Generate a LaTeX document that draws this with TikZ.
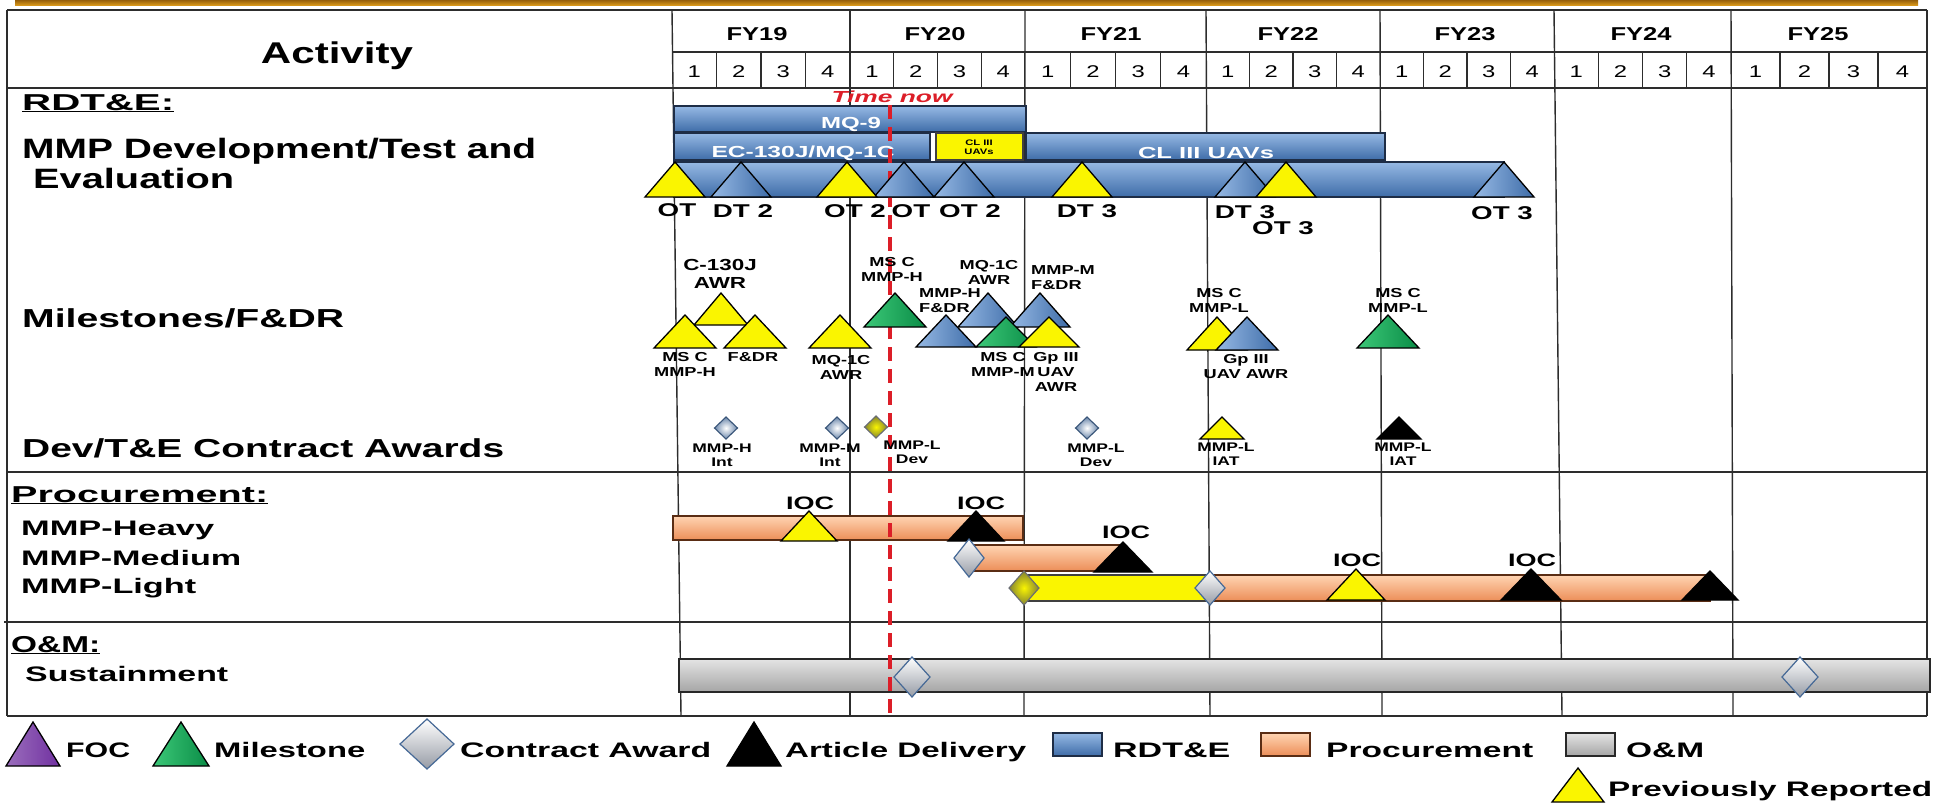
\documentclass[tikz,border=0pt]{standalone}
\usepackage{fontspec}
\usepackage{graphicx}
\setmainfont{Liberation Sans}
\newfontfamily\wa[FakeStretch=1.4]{Liberation Sans}
\newfontfamily\wb[FakeStretch=1.5]{Liberation Sans}
\newcommand\fw[2]{\resizebox{#1pt}{\height}{#2}}
\newcommand\tri[5]{\draw[#1] (#2,#3) -- ++({#5},{#4-#3}) -- ++({-2*#5},0) -- cycle;}
\newcommand\dia[5]{\draw[#1] (#2,#3) +(0,{-#5}) -- +(#4,0) -- +(0,#5) -- +({-#4},0) -- cycle;}
\definecolor{btop}{RGB}{150,185,228}
\definecolor{bbot}{RGB}{62,108,168}
\definecolor{bborder}{RGB}{30,45,70}
\definecolor{otop}{RGB}{255,212,178}
\definecolor{obot}{RGB}{236,142,88}
\definecolor{oborder}{RGB}{90,45,20}
\definecolor{gtop}{RGB}{228,228,228}
\definecolor{gbot}{RGB}{165,165,165}
\definecolor{gborder}{RGB}{40,40,40}
\definecolor{yel}{RGB}{250,245,0}
\definecolor{gtopc}{RGB}{60,200,120}
\definecolor{tgreen}{RGB}{10,140,70}
\definecolor{tpurple}{RGB}{112,48,160}
\definecolor{tred}{RGB}{220,30,40}
\definecolor{gline}{RGB}{45,45,45}
\definecolor{goldc}{RGB}{215,150,25}
\definecolor{goldd}{RGB}{150,95,10}
\definecolor{dblue}{RGB}{70,105,150}
\definecolor{sgray}{RGB}{150,155,165}
\definecolor{olive}{RGB}{130,130,50}
\begin{document}
\begin{tikzpicture}[x=1pt,y=-1pt,
  grid/.style={draw=gline,line width=1.4pt},
  bluebar/.style={draw=bborder,line width=1.3pt,top color=btop,bottom color=bbot},
  orbar/.style={draw=oborder,line width=1.3pt,top color=otop,bottom color=obot},
  graybar/.style={draw=gborder,line width=1.6pt,top color=gtop,bottom color=gbot},
  yelbar/.style={draw=black!75,line width=1.3pt,fill=yel},
  tri/.style={line width=1.3pt,line join=miter,draw=black},
  ytri/.style={tri,fill=yel},
  btri/.style={tri,left color=btop,right color=bbot},
  gtri/.style={tri,left color=gtopc,right color=tgreen},
  ktri/.style={tri,fill=black},
  ptri/.style={tri,left color=tpurple!70!white,right color=tpurple},
  sdia/.style={draw=dblue,line width=1.2pt,top color=white,bottom color=sgray},
  bdia/.style={draw=dblue!80!black,line width=1.1pt,inner color=white,outer color=dblue!80},
  ydia/.style={draw=sgray!70!black,line width=1.1pt,inner color=yel,outer color=olive},
  lc/.style={inner sep=0pt,anchor=base west},
  lab/.style={inner sep=0pt,align=center,font=\wa\bfseries\fontsize{13}{15}\selectfont},
  labs/.style={inner sep=0pt,align=center,font=\wa\bfseries\fontsize{12.5}{14}\selectfont},
  tl/.style={inner sep=0pt,font=\wb\bfseries\fontsize{18.5}{20}\selectfont},
  barlab/.style={inner sep=0pt,text=white,font=\bfseries\fontsize{16}{16}\selectfont},
  leg/.style={inner sep=0pt,anchor=base west,font=\bfseries\fontsize{21}{21}\selectfont},
  fyl/.style={inner sep=0pt,anchor=base,font=\bfseries\fontsize{18.6}{19}\selectfont},
  ql/.style={inner sep=0pt,anchor=base,font=\wa\fontsize{17}{17}\selectfont}]
\useasboundingbox (0,0) rectangle (1939,804);
\fill[white] (0,0) rectangle (1939,804);
\fill[top color=goldd,bottom color=goldc] (15,0) rectangle (1918,5);

% ---------- table lines
\draw[grid] (7,10) -- (1927,10);
\draw[grid] (672,52) -- (1927,52);
\draw[grid] (7,88) -- (1927,88);
\draw[grid] (7,472) -- (1927,472);
\draw[grid] (4,622) -- (1927,622);
\draw[grid] (7,716) -- (1927,716);
\draw[grid] (7,10) -- (7,716);
\foreach \t/\u in {672/681,850/850,1025/1024,1206/1210,1380/1382,1554/1562,1731/1733,1927/1927}
  \draw[grid] (\t,10) -- (\u,716);

% ---------- header
\node[inner sep=0pt,anchor=base,font=\bfseries\fontsize{30}{30}\selectfont] (act) at (337,63) {\fw{152}{Activity}};
\foreach \a/\b/\fy/\c in {672/850/FY19/757,850/1025/FY20/935,1025/1206/FY21/1111,1206/1380/FY22/1288,1380/1554/FY23/1465,1554/1731/FY24/1641,1731/1927/FY25/1818}{
  \node[fyl] (\fy) at (\c,40) {\fw{61}{\fy}};
  \foreach \q in {1,2,3}{\draw[grid] ({\a+(\b-\a)*\q/4},52) -- ({\a+(\b-\a)*\q/4},88);}
  \foreach \q in {1,2,3,4}{\node[ql] (\fy q\q) at ({\a+(\b-\a)*(2*\q-1)/8},77) {\q};}
}

% ---------- left column
\node[lc,font=\bfseries\fontsize{23}{23}\selectfont] (rdte) at (22,110) {\fw{152}{\underline{RDT\&E:}}};
\node[lc,font=\bfseries\fontsize{28}{28}\selectfont] (mmpdev) at (22,158) {\fw{514}{MMP Development/Test and}};
\node[lc,font=\bfseries\fontsize{28}{28}\selectfont] (evalu) at (33,188) {\fw{201}{Evaluation}};
\node[lc,font=\bfseries\fontsize{26}{26}\selectfont] (miles) at (22,327) {\fw{322}{Milestones/F\&DR}};
\node[lc,font=\bfseries\fontsize{26}{26}\selectfont] (devte) at (22,457) {\fw{482}{Dev/T\&E Contract Awards}};
\node[lc,font=\bfseries\fontsize{23}{23}\selectfont] (procu) at (11,502) {\fw{257}{\underline{Procurement:}}};
\node[lc,font=\bfseries\fontsize{21}{21}\selectfont] (heavy) at (21,535) {\fw{193}{MMP-Heavy}};
\node[lc,font=\bfseries\fontsize{21}{21}\selectfont] (medium) at (21,565) {\fw{220}{MMP-Medium}};
\node[lc,font=\bfseries\fontsize{21}{21}\selectfont] (light) at (21,593) {\fw{175}{MMP-Light}};
\node[lc,font=\bfseries\fontsize{23}{23}\selectfont] (om) at (11,652) {\fw{89}{\underline{O\&M:}}};
\node[lc,font=\bfseries\fontsize{21}{21}\selectfont] (sust) at (25,681) {\fw{203}{Sustainment}};

% ---------- RDT&E bars
\draw[bluebar] (674,106) rectangle (1026,132);
\draw[bluebar] (674,133) rectangle (930,160);
\draw[yelbar] (936,133) rectangle (1023,160);
\draw[bluebar] (1026,133) rectangle (1385,160);
\draw[bluebar] (674,162) rectangle (1504,197);
\node[barlab] (mq9) at (851,124) {\fw{60}{MQ-9}};
\node[barlab] (ec130) at (803,153) {\fw{183}{EC-130J/MQ-1C}};
\node[barlab] (cl3) at (1206,153) {\fw{136}{CL III UAVs}};
\node[inner sep=0pt,align=center,font=\wa\bfseries\fontsize{8}{9.5}\selectfont] (cl3s) at (979,147) {CL III\\UAVs};

% ---------- procurement / O&M bars
\draw[orbar] (673,516) rectangle (1023,540);
\draw[orbar] (969,545) rectangle (1120,571);
\draw[orbar] (1210,575) rectangle (1710,601);
\draw[yelbar] (1024,575) rectangle (1210,601);
\draw[graybar] (679,659) rectangle (1930,692);

% ---------- time now
\node[inner sep=0pt,anchor=base,text=tred,font=\bfseries\itshape\fontsize{16}{16}\selectfont] (tnow) at (892,102) {\fw{121}{Time now}};
\coordinate (tnowend) at (890,716);
\draw[tred,line width=3.5pt,dash pattern=on 14pt off 8pt] (890,105) -- (tnowend);

% ---------- row 3 triangles
\foreach \x in {741,904,964,1245,1504} {\tri{btri}{\x}{162}{197}{30}}
\foreach \x in {675,847,1082,1286} {\tri{ytri}{\x}{162}{197}{30}}
\foreach \x/\y/\t [count=\i] in {677/210/OT,743/211/DT 2,855/211/OT 2,911/211/OT,970/211/OT 2,1087/211/DT 3,1245/212/DT 3,1283/228/OT 3,1502/213/OT 3}
  \node[tl] (tl\i) at (\x,\y) {\t};

% ---------- milestones
\tri{ytri}{721}{293}{325}{27}
\tri{ytri}{685}{315}{348}{31}
\tri{ytri}{755}{315}{348}{31}
\tri{ytri}{840}{315}{348}{31}
\tri{gtri}{895}{293}{327}{31}
\tri{btri}{988}{293}{327}{30}
\tri{btri}{1040}{293}{327}{30}
\tri{btri}{946}{315}{347}{30}
\tri{gtri}{1006}{317}{347}{30}
\tri{ytri}{1049}{317}{347}{30}
\tri{ytri}{1217}{317}{350}{30}
\tri{btri}{1247}{317}{350}{31}
\tri{gtri}{1388}{315}{348}{31}
\node[inner sep=0pt,align=center,font=\wa\bfseries\fontsize{16}{18}\selectfont] (mc130) at (720,274) {C-130J\\AWR};
\node[lab] (mb) at (685,364.5) {MS C\\MMP-H};
\node[lab] (mc) at (753,357) {F\&DR};
\node[lab] (md) at (841,367.5) {MQ-1C\\AWR};
\node[lab] (me) at (892,269.5) {MS C\\MMP-H};
\node[lab,align=left,anchor=west] (mf) at (919,300.5) {MMP-H\\F\&DR};
\node[lab] (mg) at (989,272) {MQ-1C\\AWR};
\node[lab,align=left,anchor=west] (mh) at (1031,277.5) {MMP-M\\F\&DR};
\node[lab] (mi) at (1003,364.5) {MS C\\MMP-M};
\node[lab] (mj) at (1056,372) {Gp III\\UAV\\AWR};
\node[lab] (mk) at (1219,300) {MS C\\MMP-L};
\node[lab] (ml) at (1246,366.5) {Gp III\\UAV AWR};
\node[lab] (mm) at (1398,300) {MS C\\MMP-L};

% ---------- contract awards
\dia{bdia}{726}{428}{11.5}{11}
\dia{bdia}{837}{428}{11.5}{11}
\dia{ydia}{876}{427}{11.5}{11}
\dia{bdia}{1087}{428}{11.5}{11}
\tri{ytri}{1222}{417}{439}{22}
\tri{ktri}{1399}{417}{439}{22}
\node[labs] (ca1) at (722,455) {MMP-H\\Int};
\node[labs] (ca2) at (830,455) {MMP-M\\Int};
\node[labs] (ca3) at (912,452.5) {MMP-L\\Dev};
\node[labs] (ca4) at (1096,455) {MMP-L\\Dev};
\node[labs] (ca5) at (1226,454.5) {MMP-L\\IAT};
\node[labs] (ca6) at (1403,454.5) {MMP-L\\IAT};

% ---------- procurement markers
\tri{ytri}{809}{511}{541}{28}
\tri{ktri}{976}{511}{541}{28}
\tri{ktri}{1123}{542}{572}{29}
\tri{ytri}{1356}{569}{600}{29}
\tri{ktri}{1531}{569}{600}{30}
\tri{ktri}{1710}{571}{600}{28}
\dia{sdia}{969}{558}{15}{19}
\dia{ydia}{1024}{588}{15}{17}
\dia{sdia}{1210}{588}{15}{17}
\foreach \x/\y [count=\i] in {810/503,981/503,1126/532,1357/560,1532/560}
  \node[tl,font=\wb\bfseries\fontsize{18}{18}\selectfont] (ioc\i) at (\x,\y) {IOC};

% ---------- O&M markers
\dia{sdia}{912}{677}{18}{20}
\dia{sdia}{1800}{677}{18}{20}

% ---------- legend
\tri{ptri}{33}{722}{766}{27}
\node[leg] (lfoc) at (66,757) {\fw{64}{FOC}};
\tri{gtri}{181}{722}{766}{28}
\node[leg] (lms) at (214,757) {\fw{151}{Milestone}};
\dia{sdia}{427}{744}{27}{25}
\node[leg] (lca) at (460,757) {\fw{251}{Contract Award}};
\tri{ktri}{754}{722}{766}{27}
\node[leg] (lad) at (785,757) {\fw{241}{Article Delivery}};
\draw[bluebar] (1053,733) rectangle (1102,756);
\node[leg] (lrd) at (1113,757) {\fw{117}{RDT\&E}};
\draw[orbar] (1261,733) rectangle (1310,756);
\node[leg] (lpr) at (1326,757) {\fw{207}{Procurement}};
\draw[graybar] (1566,733) rectangle (1615,756);
\node[leg] (lom) at (1626,757) {\fw{78}{O\&M}};
\tri{ytri}{1578}{768}{802}{26}
\node[leg] (lpv) at (1608,796) {\fw{324}{Previously Reported}};
\end{tikzpicture}
\end{document}
